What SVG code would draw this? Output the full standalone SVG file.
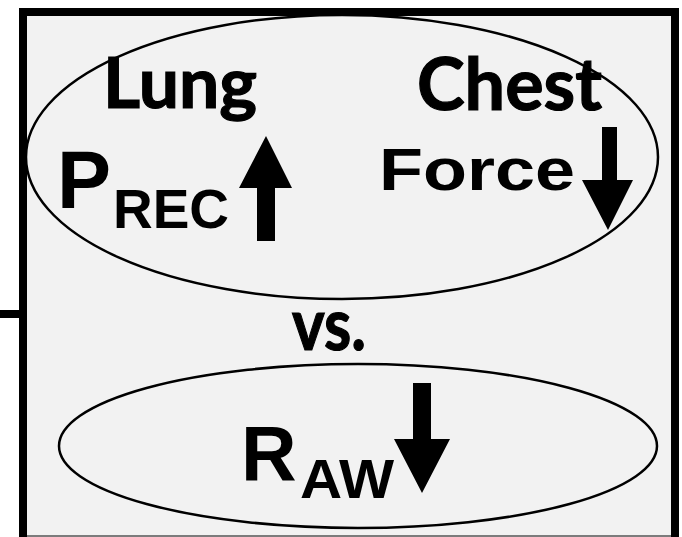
<svg xmlns="http://www.w3.org/2000/svg" width="682" height="537" viewBox="0 0 682 537">
  <style>
    .frame { fill: #f2f2f2; stroke: #000; stroke-width: 8; }
    .oval { fill: none; stroke: #000; stroke-width: 2.5; }
    .cal { font-family: Lato, "Open Sans", sans-serif; font-weight: bold; fill: #000; stroke: #000; stroke-width: 1.2; }
    .ari { font-family: "Liberation Sans", Arial, sans-serif; font-weight: bold; fill: #000; }
    .arrow { fill: #000; }
  </style>

  <!-- background page -->
  <rect x="0" y="0" width="682" height="537" fill="#ffffff"/>

  <!-- panel frame, cut at the bottom edge -->
  <g id="panel">
    <path class="frame" d="M23,545 V12 H675 V545"/>
    <rect x="27" y="16" width="644" height="530" fill="#f2f2f2"/>
    <line x1="27" y1="536" x2="671" y2="536" stroke="#555" stroke-width="1.5"/>
  </g>

  <!-- connectors -->
  <g id="connectors">
    <line x1="0" y1="314" x2="20" y2="314" stroke="#000" stroke-width="8"/>
  </g>

  <!-- upper group: lung recoil pressure vs chest force -->
  <g id="lung-chest">
    <ellipse class="oval" cx="342" cy="157" rx="316" ry="142"/>
    <text class="cal" x="103" y="108" font-size="70" textLength="154" lengthAdjust="spacingAndGlyphs">Lung</text>
    <text class="cal" x="417" y="110" font-size="72" textLength="185" lengthAdjust="spacingAndGlyphs">Chest</text>
    <text class="ari" x="57" y="208" font-size="81">P</text>
    <text class="ari" x="113" y="228" font-size="56" textLength="116" lengthAdjust="spacingAndGlyphs">REC</text>
    <polygon class="arrow" points="266,136 292,188 275,188 275,241 257,241 257,188 239,188"/>
    <text class="ari" x="379" y="190" font-size="60" textLength="196" lengthAdjust="spacingAndGlyphs">Force</text>
    <polygon class="arrow" points="602,127 617,127 617,180 633,180 608,230 582,180 602,180"/>
  </g>

  <!-- separator label -->
  <g id="versus">
    <text class="cal" x="292" y="350" font-size="72" textLength="74" lengthAdjust="spacingAndGlyphs">vs.</text>
  </g>

  <!-- lower group: airway resistance -->
  <g id="airway">
    <ellipse class="oval" cx="358" cy="446" rx="299" ry="82"/>
    <text class="ari" x="241" y="480" font-size="77">R</text>
    <text class="ari" x="300" y="498" font-size="56" textLength="94" lengthAdjust="spacingAndGlyphs">AW</text>
    <polygon class="arrow" points="413,383 431,383 431,439 450,439 422,493 394,439 413,439"/>
  </g>
</svg>
